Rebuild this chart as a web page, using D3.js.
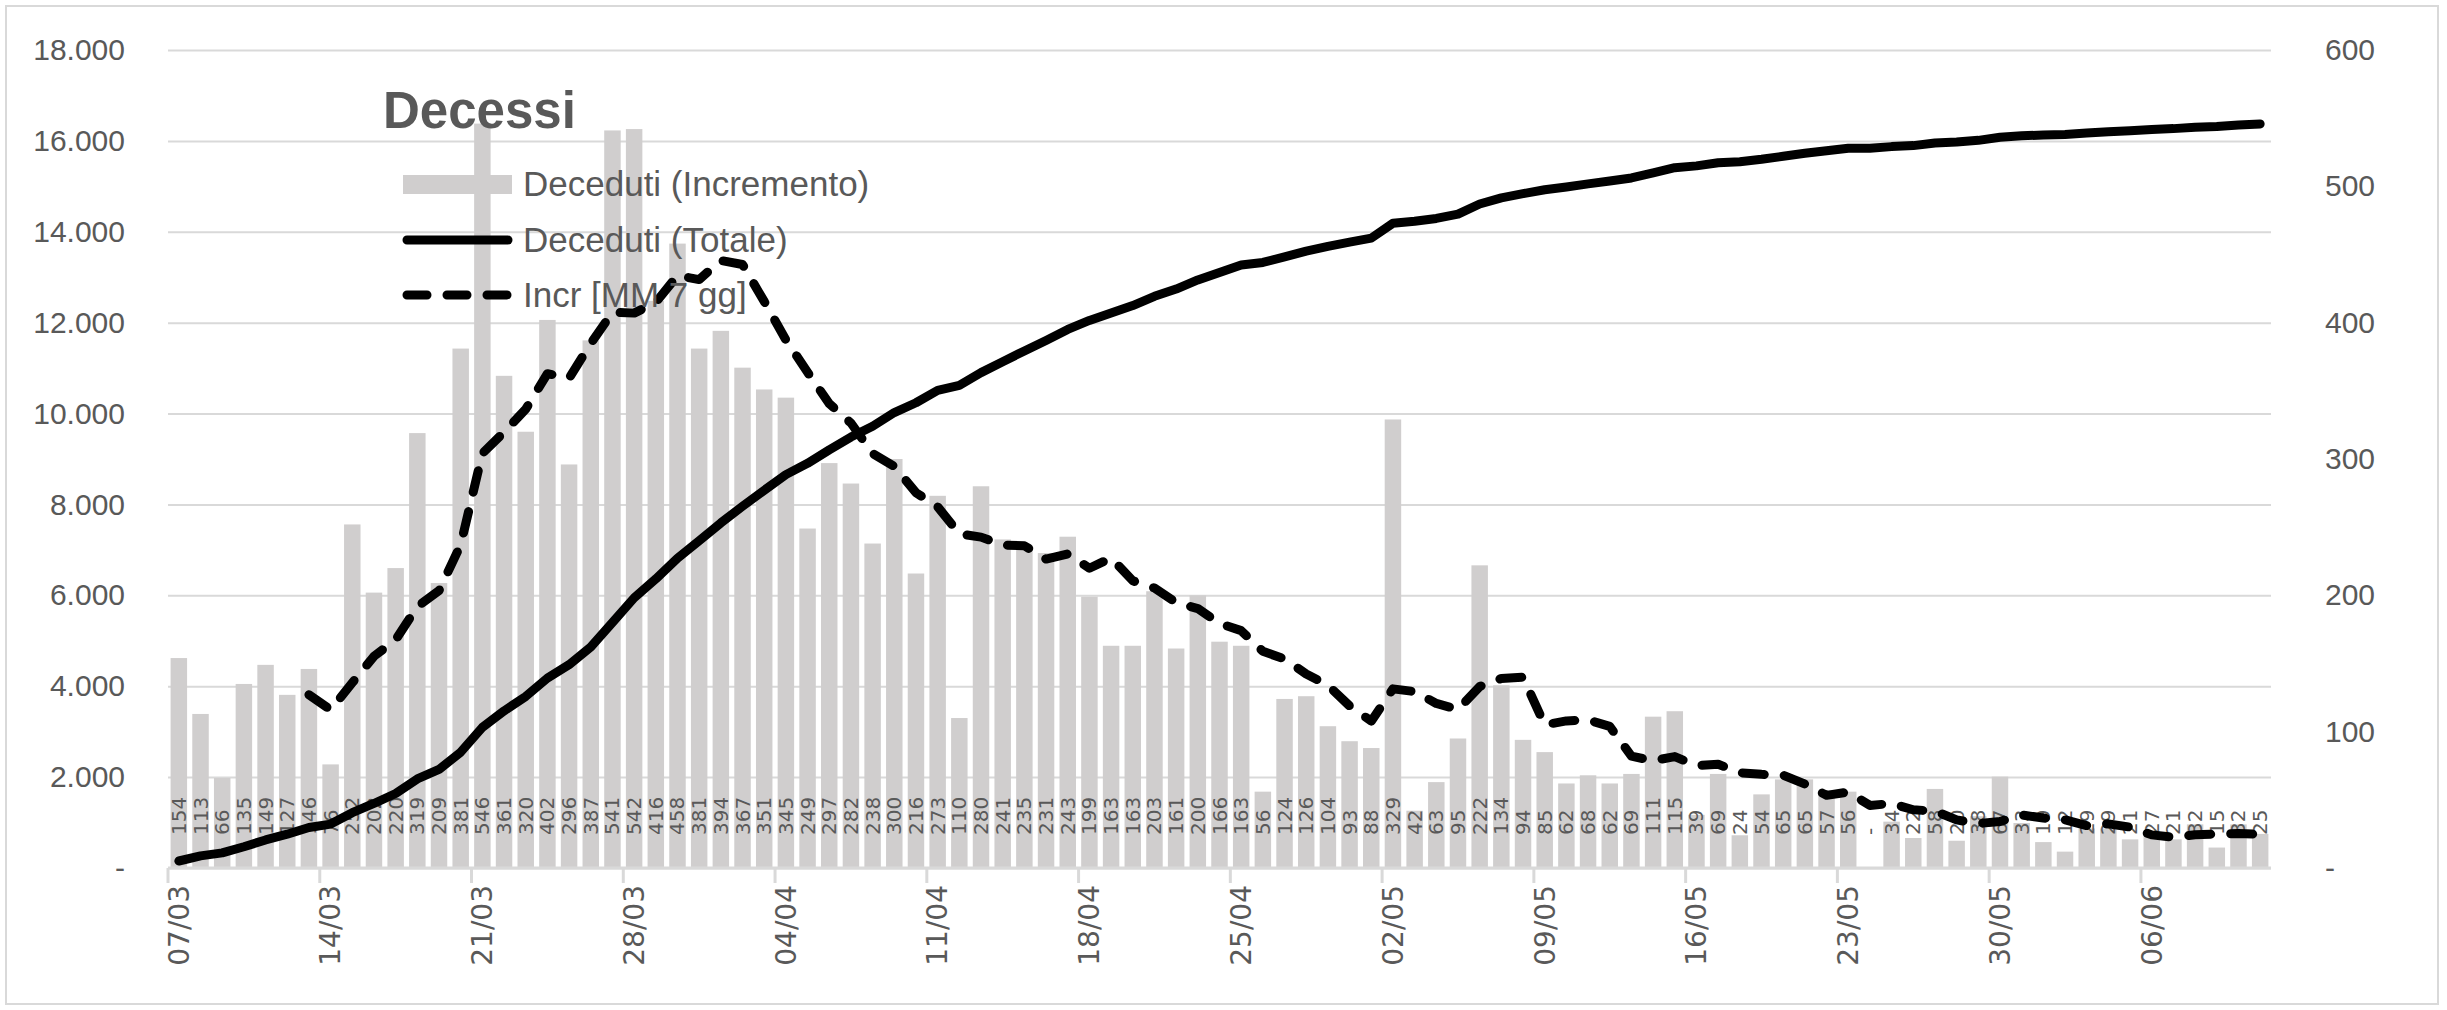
<!DOCTYPE html>
<html>
<head>
<meta charset="utf-8">
<script src="https://cdn.jsdelivr.net/npm/d3@7"></script>
<style>
  body { margin: 0; background: #fff; }
</style>
</head>
<body>
<div id="container"></div>
<script>
// daily categories 07/03 .. 11/06
const dates = [
  "07/03","08/03","09/03","10/03","11/03","12/03","13/03","14/03","15/03","16/03","17/03","18/03","19/03","20/03",
  "21/03","22/03","23/03","24/03","25/03","26/03","27/03","28/03","29/03","30/03","31/03",
  "01/04","02/04","03/04","04/04","05/04","06/04","07/04","08/04","09/04","10/04","11/04","12/04","13/04","14/04","15/04",
  "16/04","17/04","18/04","19/04","20/04","21/04","22/04","23/04","24/04","25/04","26/04","27/04","28/04","29/04","30/04",
  "01/05","02/05","03/05","04/05","05/05","06/05","07/05","08/05","09/05","10/05","11/05","12/05","13/05","14/05","15/05",
  "16/05","17/05","18/05","19/05","20/05","21/05","22/05","23/05","24/05","25/05","26/05","27/05","28/05","29/05","30/05","31/05",
  "01/06","02/06","03/06","04/06","05/06","06/06","07/06","08/06","09/06","10/06","11/06"
];

const incremento = [
  154,113,66,135,149,127,146,76,252,202,
  220,319,209,381,546,361,320,402,296,387,
  541,542,416,458,381,394,367,351,345,249,
  297,282,238,300,216,273,110,280,241,235,
  231,243,199,163,163,203,161,200,166,163,
  56,124,126,104,93,88,329,42,63,95,
  222,134,94,85,62,68,62,69,111,115,
  39,69,24,54,65,65,57,56,0,34,
  22,58,20,38,67,33,19,12,29,29,
  21,27,21,32,15,32,25
];

const totale = [
  154,267,333,468,617,744,890,966,1218,1420,
  1640,1959,2168,2549,3095,3456,3776,4178,4474,4861,
  5402,5944,6360,6818,7199,7593,7960,8311,8656,8905,
  9202,9484,9722,10022,10238,10511,10621,10901,11142,11377,
  11608,11851,12050,12213,12376,12579,12740,12940,13106,13269,
  13325,13449,13575,13679,13772,13860,14189,14231,14294,14389,
  14611,14745,14839,14924,14986,15054,15116,15185,15296,15411,
  15450,15519,15543,15597,15662,15727,15784,15840,15840,15874,
  15896,15954,15974,16012,16079,16112,16131,16143,16172,16201,
  16222,16249,16270,16302,16317,16349,16374
];

// Incr [MM 7 gg]
const media7 = [
  null,null,null,null,null,null,127.1,116.0,135.9,155.3,
  167.4,191.7,203.4,237.0,304.1,319.7,336.6,362.6,359.3,384.7,
  407.6,407.0,414.9,434.6,431.6,445.6,442.7,415.6,387.4,363.6,
  340.6,326.4,304.1,294.6,275.3,265.0,245.1,242.7,236.9,236.4,
  226.6,230.4,219.9,227.4,210.7,205.3,194.7,190.3,179.3,174.1,
  158.9,153.3,142.3,134.1,118.9,107.7,131.4,129.4,120.7,116.3,
  133.1,139.0,139.9,105.0,107.9,108.6,103.9,82.0,78.7,81.7,
  75.1,76.1,69.9,68.7,68.1,61.6,53.3,55.7,45.9,47.3,
  42.7,41.7,35.3,32.6,34.1,38.9,36.7,35.3,31.1,32.4,
  30.0,24.3,22.6,24.4,24.9,25.3,24.7
];

const xTickLabels = ["07/03","14/03","21/03","28/03","04/04","11/04","18/04","25/04","02/05","09/05","16/05","23/05","30/05","06/06"];
const leftTicks = [0,2000,4000,6000,8000,10000,12000,14000,16000,18000];
const rightTicks = [0,100,200,300,400,500,600];

const w = 2447;
const h = 1010;
const margin = {top: 50, left: 168, bottom: 142, right: 176};
const graphWidth = w - margin.left - margin.right;
const graphHeight = h - margin.top - margin.bottom;

const grey = "#595959";
const axisFont = "'Liberation Sans', Arial, sans-serif";
const smallFont = "'DejaVu Sans', Verdana, sans-serif";

const svg = d3.select("#container").append("svg").attr("width", w).attr("height", h);

svg.append("rect")
  .attr("x", 6).attr("y", 6).attr("width", 2432).attr("height", 998)
  .attr("fill", "#fff").attr("stroke", "#d9d9d9").attr("stroke-width", 2);

const graph = svg.append("g").attr("transform", `translate(${margin.left}, ${margin.top})`);

const pad = 0.24;
const xScale = d3.scaleBand().domain(dates).range([0, graphWidth]).paddingInner(pad).paddingOuter(pad / 2);
const yLeft = d3.scaleLinear().domain([0, 18000]).range([graphHeight, 0]);
const yRight = d3.scaleLinear().domain([0, 600]).range([graphHeight, 0]);
const cx = d => xScale(d) + xScale.bandwidth() / 2;
const edge = d => xScale(d) - xScale.step() * xScale.paddingOuter();

const itLocale = d3.formatLocale({decimal: ",", thousands: ".", grouping: [3], currency: ["", ""]});
const fmtThousands = itLocale.format(",");

// gridlines
const grid = graph.append("g")
  .call(d3.axisLeft(yLeft).tickValues(leftTicks).tickSize(-graphWidth).tickFormat(""));
grid.select(".domain").remove();
grid.selectAll("line").attr("stroke", "#d9d9d9").attr("stroke-width", 2);

// left axis labels
const leftAxis = graph.append("g")
  .call(d3.axisLeft(yLeft).tickValues(leftTicks).tickSize(0).tickPadding(43)
    .tickFormat(v => v === 0 ? "-" : fmtThousands(v)));
leftAxis.select(".domain").remove();
leftAxis.selectAll("text").attr("font-family", axisFont).attr("font-size", 30).attr("fill", grey);

// right axis labels
const rightAxis = graph.append("g").attr("transform", `translate(${graphWidth}, 0)`)
  .call(d3.axisRight(yRight).tickValues(rightTicks).tickSize(0).tickPadding(54)
    .tickFormat(v => v === 0 ? "-" : v));
rightAxis.select(".domain").remove();
rightAxis.selectAll("text").attr("font-family", axisFont).attr("font-size", 30).attr("fill", grey);

// bars
graph.selectAll("rect.bar")
  .data(dates)
  .enter()
  .append("rect")
    .attr("class", "bar")
    .attr("x", d => xScale(d))
    .attr("width", xScale.bandwidth())
    .attr("y", (d, i) => yRight(incremento[i]))
    .attr("height", (d, i) => graphHeight - yRight(incremento[i]))
    .attr("fill", "#d0cece");

// bar labels (inside base)
graph.selectAll("text.barlabel")
  .data(dates)
  .enter()
  .append("text")
    .attr("class", "barlabel")
    .attr("transform", d => `translate(${cx(d)}, ${graphHeight - 33}) rotate(-90)`)
    .attr("dy", "0.35em")
    .attr("text-anchor", "start")
    .attr("font-family", smallFont)
    .attr("font-size", 20)
    .attr("fill", grey)
    .text((d, i) => incremento[i] === 0 ? "-" : incremento[i]);

// x axis
const xAxisGroup = graph.append("g").attr("transform", `translate(0, ${graphHeight})`)
  .call(d3.axisBottom(xScale).tickValues(xTickLabels).tickSize(0).tickSizeOuter(0));
xAxisGroup.select(".domain").remove();
xAxisGroup.selectAll("text")
  .attr("transform", "rotate(-90)")
  .attr("x", -17)
  .attr("y", 0)
  .attr("dy", "0.35em")
  .attr("text-anchor", "end")
  .attr("font-family", smallFont)
  .attr("font-size", 28)
  .attr("fill", grey);

xAxisGroup.append("line")
  .attr("x1", 0).attr("x2", graphWidth).attr("y1", 0).attr("y2", 0)
  .attr("stroke", "#d9d9d9").attr("stroke-width", 3);
xAxisGroup.selectAll("line.tickmark")
  .data(xTickLabels)
  .enter()
  .append("line")
    .attr("class", "tickmark")
    .attr("x1", d => edge(d)).attr("x2", d => edge(d))
    .attr("y1", 0).attr("y2", 15)
    .attr("stroke", "#d9d9d9").attr("stroke-width", 3);

// lines
const totLine = d3.line()
  .x((d, i) => cx(dates[i]))
  .y(d => yLeft(d));
graph.append("path")
  .datum(totale)
  .attr("d", totLine)
  .attr("fill", "none").attr("stroke", "#000").attr("stroke-width", 9)
  .attr("stroke-linejoin", "round").attr("stroke-linecap", "round");

const mmLine = d3.line()
  .defined(d => d != null)
  .x((d, i) => cx(dates[i]))
  .y(d => yRight(d));
graph.append("path")
  .datum(media7)
  .attr("d", mmLine)
  .attr("fill", "none").attr("stroke", "#000").attr("stroke-width", 9)
  .attr("stroke-dasharray", "22,20")
  .attr("stroke-linejoin", "round").attr("stroke-linecap", "round");

// title
svg.append("text")
  .attr("x", 383).attr("y", 128)
  .attr("font-family", axisFont).attr("font-weight", "bold").attr("font-size", 51)
  .attr("fill", grey)
  .text("Decessi");

// legend
const legend = svg.append("g");
const legendItems = ["Deceduti (Incremento)", "Deceduti (Totale)", "Incr [MM 7 gg]"];
const legendY = [184, 240, 295];
legend.append("rect")
  .attr("x", 403).attr("y", legendY[0] - 9).attr("width", 109).attr("height", 19)
  .attr("fill", "#d0cece");
legend.append("line")
  .attr("x1", 407).attr("x2", 508).attr("y1", legendY[1]).attr("y2", legendY[1])
  .attr("stroke", "#000").attr("stroke-width", 9).attr("stroke-linecap", "round");
legend.append("line")
  .attr("x1", 407).attr("x2", 508).attr("y1", legendY[2]).attr("y2", legendY[2])
  .attr("stroke", "#000").attr("stroke-width", 9).attr("stroke-linecap", "round")
  .attr("stroke-dasharray", "20,20");
legend.selectAll("text")
  .data(legendItems)
  .enter()
  .append("text")
    .attr("x", 523)
    .attr("y", (d, i) => legendY[i])
    .attr("dy", "0.35em")
    .attr("font-family", axisFont)
    .attr("font-size", 35)
    .attr("fill", grey)
    .text(d => d);
</script>
</body>
</html>
